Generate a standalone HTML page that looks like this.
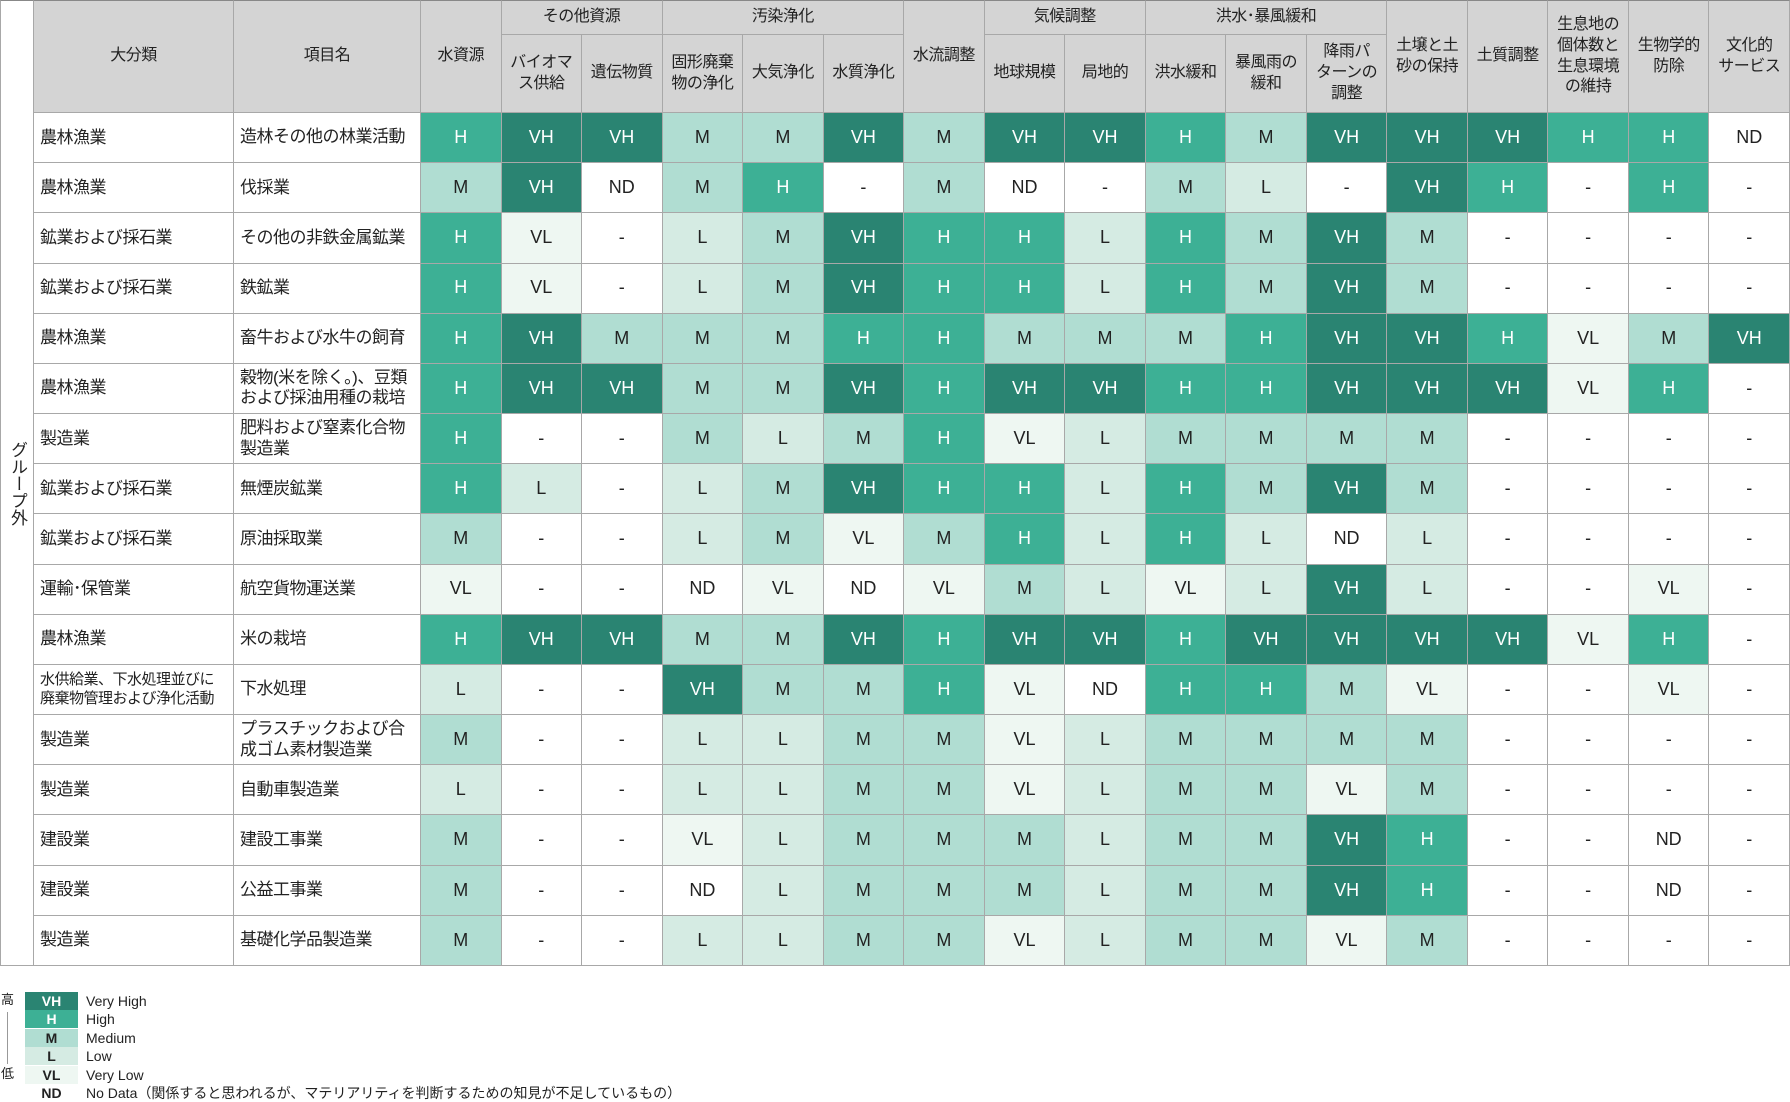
<!DOCTYPE html>
<html><head><meta charset="utf-8">
<style>
body{margin:0;width:1790px;height:1100px;background:#fff;position:relative;overflow:hidden;font-family:"Liberation Sans","Noto Sans CJK JP",sans-serif;color:#222}
.c{position:absolute;box-sizing:border-box;display:flex;align-items:center;justify-content:center;text-align:center;border-right:1px solid #a8a8a8;border-bottom:1px solid #a8a8a8;line-height:1.3}
.h{background:#d4d4d4;font-size:16px;letter-spacing:-0.5px}
.lbl{justify-content:flex-start;text-align:left;padding-left:6px;font-size:17px;letter-spacing:-0.5px}
.d{font-size:18px}
.lg{position:absolute;font-size:14px;line-height:18px}
</style></head><body>
<div id="tbl"></div>
<div class="c" style="left:0;top:0;width:34px;height:966px;border-left:1px solid #a8a8a8;border-top:1px solid #888;font-size:17px;writing-mode:vertical-rl;align-items:center;justify-content:center">グループ外</div>
<div id="legend"></div>
<script>
const columns=["水資源","バイオマ<br>ス供給","遺伝物質","固形廃棄<br>物の浄化","大気浄化","水質浄化","水流調整","地球規模","局地的","洪水緩和","暴風雨の<br>緩和","降雨パ<br>ターンの<br>調整","土壌と土<br>砂の保持","土質調整","生息地の<br>個体数と<br>生息環境<br>の維持","生物学的<br>防除","文化的<br>サービス"];
const groups=[["その他資源",1,2],["汚染浄化",3,5],["気候調整",7,8],["洪水･暴風緩和",9,11]];
const categories=["農林漁業","農林漁業","鉱業および採石業","鉱業および採石業","農林漁業","農林漁業","製造業","鉱業および採石業","鉱業および採石業","運輸･保管業","農林漁業","水供給業、下水処理並びに<br>廃棄物管理および浄化活動","製造業","製造業","建設業","建設業","製造業"];
const items=["造林その他の林業活動","伐採業","その他の非鉄金属鉱業","鉄鉱業","畜牛および水牛の飼育","穀物(米を除く。)、豆類<br>および採油用種の栽培","肥料および窒素化合物<br>製造業","無煙炭鉱業","原油採取業","航空貨物運送業","米の栽培","下水処理","プラスチックおよび合<br>成ゴム素材製造業","自動車製造業","建設工事業","公益工事業","基礎化学品製造業"];
const ratings=[
"H VH VH M M VH M VH VH H M VH VH VH H H ND",
"M VH ND M H - M ND - M L - VH H - H -",
"H VL - L M VH H H L H M VH M - - - -",
"H VL - L M VH H H L H M VH M - - - -",
"H VH M M M H H M M M H VH VH H VL M VH",
"H VH VH M M VH H VH VH H H VH VH VH VL H -",
"H - - M L M H VL L M M M M - - - -",
"H L - L M VH H H L H M VH M - - - -",
"M - - L M VL M H L H L ND L - - - -",
"VL - - ND VL ND VL M L VL L VH L - - VL -",
"H VH VH M M VH H VH VH H VH VH VH VH VL H -",
"L - - VH M M H VL ND H H M VL - - VL -",
"M - - L L M M VL L M M M M - - - -",
"L - - L L M M VL L M M VL M - - - -",
"M - - VL L M M M L M M VH H - - ND -",
"M - - ND L M M M L M M VH H - - ND -",
"M - - L L M M VL L M M VL M - - - -"];
const levels=["VH","H","M","L","VL","ND"];
const levelNames=["Very High","High","Medium","Low","Very Low","No Data（関係すると思われるが、マテリアリティを判断するための知見が不足しているもの）"];
const colors={VH:"#2a8472",H:"#3db095",M:"#b0ddd2",L:"#d5ebe3",VL:"#eef7f2",ND:"#fff","-":"#fff"};
const X0=421,CW=(1790-421)/17,H1=35,HT=113,RH=(966-113)/17;
const colX=i=>X0+i*CW, rowY=r=>HT+r*RH;
const T=document.getElementById('tbl');
function cell(x,y,w,h,cls,html,st){const e=document.createElement('div');e.className='c '+cls;e.style.left=x+'px';e.style.top=y+'px';e.style.width=w+'px';e.style.height=h+'px';e.innerHTML=html;if(st)e.style.cssText+=st;T.appendChild(e);return e;}
let e;
e=cell(34,0,200,HT,'h','大分類','border-top:1px solid #888');


e=cell(234,0,187,HT,'h','項目名','border-top:1px solid #888');


const grouped=new Set();groups.forEach(g=>{for(let i=g[1];i<=g[2];i++)grouped.add(i);
e=cell(colX(g[1]),0,CW*(g[2]-g[1]+1),H1,'h',g[0],'border-top:1px solid #888');

});
columns.forEach((c,i)=>{const g=grouped.has(i);
e=cell(colX(i),g?H1:0,CW,g?HT-H1:HT,'h',c,g?'':'border-top:1px solid #888');

});
categories.forEach((c,r)=>{
e=cell(34,rowY(r),200,RH,'lbl',c,r==11?'font-size:15px;line-height:1.25':'');


e=cell(234,rowY(r),187,RH,'lbl',items[r],'line-height:1.2');


ratings[r].split(' ').forEach((v,i)=>{
e=cell(colX(i),rowY(r),CW,RH,'d',v,'background:'+colors[v]+';color:'+((v=='VH'||v=='H')?'#fff':'#222'));

});});
const L=document.getElementById('legend');
levels.forEach((lv,k)=>{const y=992+k*18.4;
const s=document.createElement('div');s.className='lg';
s.style.cssText+='left:25px;top:'+y+'px;width:53px;height:18px;text-align:center;font-weight:bold;background:'+colors[lv]+';color:'+((lv=='VH'||lv=='H')?'#fff':'#222');
s.textContent=lv;


L.appendChild(s);
const t=document.createElement('div');t.className='lg';t.style.left='86px';t.style.top=y+'px';t.textContent=levelNames[k];


L.appendChild(t);});
</script>
<div class="lg" style="left:1px;top:991px;font-size:13px">高</div>
<div style="position:absolute;left:7px;top:1012px;width:1px;height:52px;background:#999"></div>
<div class="lg" style="left:1px;top:1065px;font-size:13px">低</div>
</body></html>
